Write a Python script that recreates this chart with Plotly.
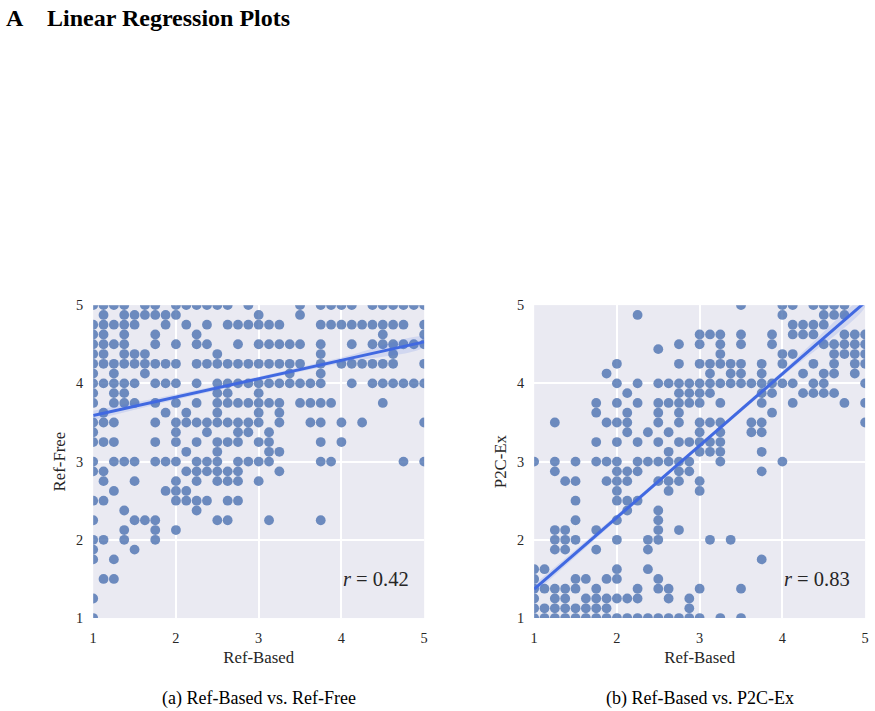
import plotly.graph_objects as go

# ---------------- data ----------------
# Panel (a): Ref-Based (x) vs Ref-Free (y); each row = (y value, list of x values)
left_rows = [
    (5.0,   [1.0, 1.125, 1.25, 1.375, 1.625, 1.75, 2.0, 2.125, 2.25, 2.375, 2.5, 2.625, 2.875, 3.5, 3.75, 3.875, 4.0, 4.125, 4.375, 4.5, 4.625, 4.75, 4.875, 5.0]),
    (4.875, [1.125, 1.375, 1.5, 1.625, 1.75, 1.875, 2.0, 3.0, 3.5]),
    (4.75,  [1.0, 1.125, 1.25, 1.375, 1.5, 1.875, 2.125, 2.375, 2.625, 2.75, 2.875, 3.0, 3.125, 3.25, 3.75, 3.875, 4.0, 4.125, 4.25, 4.375, 4.5, 4.625, 4.75, 5.0]),
    (4.625, [1.0, 1.125, 1.375, 1.75, 2.25, 4.5, 5.0]),
    (4.5,   [1.0, 1.125, 1.25, 1.375, 1.75, 2.0, 2.25, 2.375, 2.75, 3.0, 3.125, 3.25, 3.375, 3.5, 3.75, 4.125, 4.375, 4.5, 4.625, 4.75, 4.875, 5.0]),
    (4.375, [1.0, 1.125, 1.375, 1.5, 1.625, 2.5, 3.75, 4.625]),
    (4.25,  [1.0, 1.125, 1.25, 1.375, 1.5, 1.625, 1.75, 1.875, 2.0, 2.25, 2.375, 2.5, 2.625, 2.75, 2.875, 3.0, 3.125, 3.25, 3.375, 3.5, 3.75, 4.0, 4.125, 4.25, 4.375, 4.5, 4.625, 5.0]),
    (4.125, [1.0, 1.25, 1.625, 3.375, 3.75]),
    (4.0,   [1.0, 1.125, 1.25, 1.375, 1.5, 1.75, 1.875, 2.0, 2.25, 2.5, 2.625, 2.75, 2.875, 3.0, 3.125, 3.25, 3.375, 3.5, 3.625, 3.75, 4.125, 4.375, 4.5, 4.625, 4.75, 4.875, 5.0]),
    (3.875, [1.0, 1.25, 1.375, 2.5, 2.625, 3.0]),
    (3.75,  [1.0, 1.25, 1.375, 1.5, 1.75, 2.0, 2.25, 2.5, 2.625, 2.75, 2.875, 3.0, 3.125, 3.25, 3.5, 3.625, 3.75, 3.875, 4.5]),
    (3.625, [1.125, 1.875, 2.125, 2.5, 3.0, 3.25]),
    (3.5,   [1.0, 1.125, 1.25, 1.75, 2.0, 2.125, 2.25, 2.375, 2.5, 2.625, 2.75, 2.875, 3.0, 3.25, 3.625, 3.75, 4.0, 4.25, 5.0]),
    (3.375, [1.0, 2.0, 2.375, 2.75, 2.875, 3.125]),
    (3.25,  [1.0, 1.125, 1.25, 1.75, 2.0, 2.25, 2.5, 2.625, 2.75, 3.0, 3.125, 3.75, 4.0]),
    (3.125, [2.125, 2.5, 3.125, 3.25]),
    (3.0,   [1.0, 1.25, 1.375, 1.5, 1.75, 1.875, 2.0, 2.25, 2.375, 2.5, 2.75, 2.875, 3.0, 3.125, 3.75, 3.875, 4.75, 5.0]),
    (2.875, [1.0, 1.125, 2.125, 2.25, 2.375, 2.5, 2.625, 2.75, 3.25]),
    (2.75,  [1.125, 1.5, 2.0, 2.25, 2.5, 2.625, 2.75, 3.0]),
    (2.625, [1.25, 1.875, 2.0, 2.125]),
    (2.5,   [1.0, 1.125, 2.0, 2.125, 2.25, 2.375, 2.625, 2.75]),
    (2.375, [1.375, 2.25]),
    (2.25,  [1.0, 1.5, 1.625, 1.75, 2.5, 2.625, 3.125, 3.75]),
    (2.125, [1.375, 1.75, 2.0]),
    (2.0,   [1.0, 1.125, 1.375, 1.75]),
    (1.875, [1.0, 1.5]),
    (1.75,  [1.0, 1.25]),
    (1.5,   [1.125, 1.25]),
    (1.25,  [1.0]),
    (1.0,   [1.0]),
]

# Panel (b): Ref-Based (x) vs P2C-Ex (y)
right_rows = [
    (5.0,    [3.5, 4.0, 4.125, 4.375, 4.5, 4.625, 4.75]),
    (4.875,  [2.25, 4.0, 4.5, 4.625, 4.75]),
    (4.75,   [4.125, 4.25, 4.375, 4.5]),
    (4.625,  [3.0, 3.125, 3.25, 3.5, 3.875, 4.125, 4.25, 4.375, 4.75, 4.875, 5.0]),
    (4.5,    [2.75, 3.0, 3.25, 3.5, 3.875, 4.5, 4.625, 4.75, 4.875, 5.0]),
    (4.4375, [2.5]),
    (4.375,  [3.25, 4.0, 4.125, 4.625, 4.75, 4.875, 5.0]),
    (4.25,   [2.0, 2.75, 3.0, 3.125, 3.25, 3.375, 3.5, 3.75, 4.0, 4.375, 4.625, 4.875, 5.0]),
    (4.125,  [1.875, 3.125, 3.375, 3.5, 3.75, 4.25, 4.5, 4.625, 4.875]),
    (4.0,    [2.0, 2.25, 2.5, 2.625, 2.75, 2.875, 3.0, 3.125, 3.25, 3.375, 3.5, 3.625, 3.75, 3.875, 4.0, 4.125, 4.375, 4.5, 5.0]),
    (3.875,  [2.125, 2.75, 2.875, 3.0, 3.125, 3.75, 3.875, 4.25, 4.375, 4.5, 4.625]),
    (3.75,   [1.75, 2.0, 2.25, 2.5, 2.625, 2.75, 2.875, 3.0, 3.25, 3.75, 4.125, 4.75, 5.0]),
    (3.625,  [1.75, 2.125, 2.5, 2.75, 3.875]),
    (3.5,    [1.25, 1.875, 2.0, 2.125, 2.5, 2.75, 3.0, 3.125, 3.25, 3.625, 3.75, 5.0]),
    (3.375,  [2.125, 2.375, 2.625, 3.0, 3.25, 3.625, 3.75]),
    (3.25,   [1.75, 2.0, 2.25, 2.5, 2.75, 2.875, 3.0, 3.125, 3.25]),
    (3.125,  [2.625, 3.0, 3.125, 3.25, 3.75]),
    (3.0,    [1.0, 1.25, 1.5, 1.75, 1.875, 2.0, 2.25, 2.375, 2.5, 2.625, 2.75, 2.875, 3.25, 4.0]),
    (2.875,  [1.25, 2.0, 2.125, 2.25, 2.75, 2.875, 3.75]),
    (2.75,   [1.375, 1.5, 1.875, 2.0, 2.125, 2.5, 2.625, 2.75, 3.0]),
    (2.625,  [2.0, 2.625, 3.0]),
    (2.5,    [1.5, 2.0, 2.125, 2.25]),
    (2.375,  [2.125, 2.5]),
    (2.25,   [1.5, 2.0, 2.5]),
    (2.125,  [1.25, 1.375, 1.75, 2.5, 2.75]),
    (2.0,    [1.25, 1.375, 1.5, 2.0, 2.375, 2.5, 3.125, 3.375]),
    (1.875,  [1.25, 1.375, 1.75, 2.375]),
    (1.75,   [3.75]),
    (1.625,  [1.0, 1.125, 2.0, 2.375]),
    (1.5,    [1.0, 1.5, 1.625, 1.875, 2.0, 2.5]),
    (1.375,  [1.0, 1.125, 1.25, 1.375, 1.5, 1.75, 2.25, 2.5, 2.625, 3.0, 3.5]),
    (1.25,   [1.0, 1.25, 1.375, 1.625, 1.75, 1.875, 2.0, 2.125, 2.25, 2.625, 2.875]),
    (1.125,  [1.0, 1.125, 1.25, 1.375, 1.5, 1.625, 1.75, 1.875, 2.875]),
    (1.0,    [1.0, 1.125, 1.25, 1.375, 1.5, 1.625, 1.75, 1.875, 2.0, 2.125, 2.25, 2.375, 2.5, 2.625, 2.75, 2.875, 3.0, 3.25, 3.5]),
]

# regression lines and confidence bands
fit_x = [1.0, 2.0, 3.0, 4.0, 5.0]
left_fit_y = [3.59, 3.825, 4.06, 4.295, 4.53]
left_ci_half = [0.06, 0.035, 0.025, 0.035, 0.06]
right_fit_y = [1.37, 2.287, 3.204, 4.121, 5.038]
right_ci_half = [0.06, 0.035, 0.025, 0.035, 0.06]

r_labels = ["0.42", "0.83"]
x_title = "Ref-Based"
y_titles = ["Ref-Free", "P2C-Ex"]
captions = ["(a) Ref-Based vs. Ref-Free", "(b) Ref-Based vs. P2C-Ex"]
tick_vals = [1, 2, 3, 4, 5]
tick_text = ["1", "2", "3", "4", "5"]
title_letter = "A"
title_text = "Linear Regression Plots"

# ---------------- figure ----------------
SERIF = "Liberation Serif, Times New Roman, serif"
POINT = "#4C72B0"
LINE = "#4169E1"
BG = "#EAEAF2"
TXT = "#262626"

# the page is photographed slightly scaled and offset; map target picture pixels to figure pixels
SX, BX, SY, BY = 0.991, 3.8, 0.978, 6.8
FW, FH = 880, 720


def px(xp):
    return ((xp - BX) / SX) / FW


def py(yp):
    return 1 - ((yp - BY) / SY) / FH


def expand(rows):
    xs, ys = [], []
    for yv, xl in rows:
        for xv in xl:
            xs.append(xv)
            ys.append(yv)
    return xs, ys


fig = go.Figure()
panels = [
    (left_rows, left_fit_y, left_ci_half, "x", "y"),
    (right_rows, right_fit_y, right_ci_half, "x2", "y2"),
]
for rows, fy, ci, xa, ya in panels:
    xs, ys = expand(rows)
    fig.add_trace(go.Scatter(x=xs, y=ys, mode="markers", xaxis=xa, yaxis=ya,
                             marker=dict(color=POINT, size=9.8, opacity=0.8, line=dict(width=0)),
                             showlegend=False, hoverinfo="skip"))
    upper = [a + b for a, b in zip(fy, ci)]
    lower = [a - b for a, b in zip(fy, ci)]
    fig.add_trace(go.Scatter(x=fit_x + fit_x[::-1], y=upper + lower[::-1], xaxis=xa, yaxis=ya,
                             mode="lines", fill="toself", fillcolor="rgba(65,105,225,0.15)",
                             line=dict(width=0), line_shape="spline",
                             showlegend=False, hoverinfo="skip"))
    fig.add_trace(go.Scatter(x=fit_x, y=fy, mode="lines", xaxis=xa, yaxis=ya,
                             line=dict(color=LINE, width=3),
                             showlegend=False, hoverinfo="skip"))

ydom = [py(617), py(304)]
xdoms = [[px(93), px(424)], [px(534), px(865)]]

axis_common = dict(range=[1, 5], tickvals=tick_vals, ticktext=tick_text,
                   showgrid=True, gridcolor="white", gridwidth=1.6, zeroline=False,
                   showline=False, ticks="", tickfont=dict(family=SERIF, size=14.3, color=TXT),
                   fixedrange=True)
xcommon = dict(ticklabelstandoff=10, title=dict(text=x_title, font=dict(size=16.8), standoff=5), **axis_common)

fig.update_layout(
    width=FW, height=FH,
    margin=dict(l=0, r=0, t=0, b=0),
    paper_bgcolor="white", plot_bgcolor=BG,
    font=dict(family=SERIF, color=TXT),
    xaxis=dict(domain=xdoms[0], anchor="y", **xcommon),
    yaxis=dict(domain=ydom, anchor="x", ticklabelstandoff=9,
               title=dict(text=y_titles[0], font=dict(size=16.8), standoff=6), **axis_common),
    xaxis2=dict(domain=xdoms[1], anchor="y2", **xcommon),
    yaxis2=dict(domain=ydom, anchor="x2", ticklabelstandoff=9,
                title=dict(text=y_titles[1], font=dict(size=16.8), standoff=6), **axis_common),
)

annotations = [
    dict(text="<b>" + title_letter + "</b>", x=0.0, y=py(17), xref="paper", yref="paper",
         xanchor="left", yanchor="middle", showarrow=False,
         font=dict(family=SERIF, size=24, color="black")),
    dict(text="<b>" + title_text + "</b>", x=41 / FW, y=py(17), xref="paper", yref="paper",
         xanchor="left", yanchor="middle", showarrow=False,
         font=dict(family=SERIF, size=24, color="black")),
]
for i, (xa, ya) in enumerate([("x", "y"), ("x2", "y2")]):
    annotations.append(dict(text="<i>r</i> = " + r_labels[i], x=4.84, y=1.5, xref=xa, yref=ya,
                            xanchor="right", yanchor="middle", showarrow=False,
                            font=dict(family=SERIF, size=20.5, color=TXT)))
    annotations.append(dict(text=captions[i], x=sum(xdoms[i]) / 2, y=py(697),
                            xref="paper", yref="paper", xanchor="center", yanchor="middle",
                            showarrow=False, font=dict(family=SERIF, size=18, color="black")))
fig.update_layout(annotations=annotations)

fig.write_html("out.html")
